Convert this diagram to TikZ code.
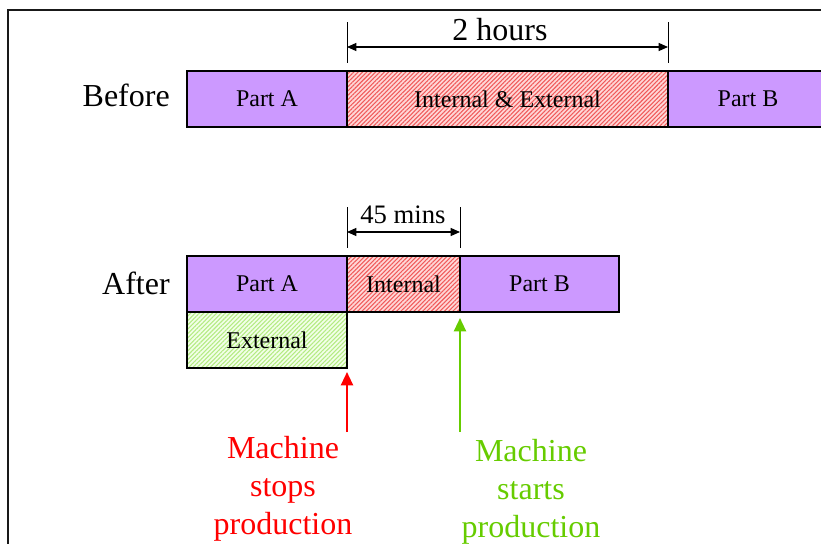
\documentclass[tikz,border=0pt]{standalone}
\usepackage{fontspec}
\setmainfont{Liberation Serif}
\usetikzlibrary{arrows.meta}
\usetikzlibrary{positioning, patterns.meta}

\definecolor{partlilac}{RGB}{204,153,255}
\definecolor{hatchpink}{RGB}{255,215,215}
\definecolor{hatchred}{RGB}{240,90,90}
\definecolor{hatchpale}{RGB}{242,255,232}
\definecolor{hatchlime}{RGB}{180,235,130}
\definecolor{startgreen}{RGB}{102,204,0}

\tikzset{
    bar/.style={draw=black, line width=0.9pt, minimum height=42pt, inner sep=0pt,
        outer sep=0pt, anchor=north west, font=\fontsize{18}{20}\selectfont},
    partbox/.style={bar, fill=partlilac},
    redhatch/.style={bar, preaction={fill=hatchpink},
        pattern={Lines[angle=45, distance=2.3pt, line width=0.8pt]}, pattern color=hatchred},
    greenhatch/.style={bar, preaction={fill=hatchpale},
        pattern={Lines[angle=45, distance=2.3pt, line width=0.8pt]}, pattern color=hatchlime},
    rowlabel/.style={anchor=east, inner sep=0pt, font=\fontsize{24}{28}\selectfont},
    dimline/.style={{Triangle[length=7pt,width=6pt]}-{Triangle[length=7pt,width=6pt]}, line width=0.9pt},
    tick/.style={line width=0.7pt},
    note/.style={align=center, inner sep=0pt, font=\fontsize{24}{28.5}\selectfont}
}

\begin{document}
\begin{tikzpicture}[x=0.75pt, y=-0.75pt]
    \useasboundingbox (0,0) rectangle (821,543);

    % outer frame
    \draw[line width=1.6pt, black!90] (8,560) -- (8,10) -- (840,10);

    % before: one long change-over
    \node[rowlabel] (before) at (170,95) {Before};
    \node[partbox, minimum width=120pt] (bA) at (187,71) {Part A};
    \node[redhatch, minimum width=240.75pt, right=0pt of bA] (bIE) {Internal \& External};
    \node[partbox, minimum width=120pt, right=0pt of bIE] (bB) {Part B};

    % after: external work moved out
    \node[rowlabel] (after) at (170,283) {After};
    \node[partbox, minimum width=120pt] (aA) at (187,256) {Part A};
    \node[redhatch, minimum width=84.75pt, right=0pt of aA] (aI) {Internal};
    \node[partbox, minimum width=119.25pt, right=0pt of aI] (aB) {Part B};
    \node[greenhatch, minimum width=120pt, below=0pt of aA] (aE) {External};

    % durations
    \coordinate (hL) at (347,47);
    \coordinate (hR) at (668,47);
    \draw[tick] (347,22) -- (347,63);
    \draw[tick] (668,22) -- (668,63);
    \draw[dimline] (hL) -- (hR);
    \node[font=\fontsize{24}{28}\selectfont] (hours) at (500,30) {2 hours};

    \coordinate (mL) at (347,232);
    \coordinate (mR) at (460,232);
    \draw[tick] (347,207) -- (347,248);
    \draw[tick] (460,207) -- (460,248);
    \draw[dimline] (mL) -- (mR);
    \node[font=\fontsize{20}{24}\selectfont] (mins) at (403,215) {45 mins};

    % machine stops / starts
    \coordinate (stopTail) at (347,432);
    \coordinate (startTail) at (460,432);
    \draw[red, line width=1.6pt, -{Triangle[length=10pt,width=9pt]}, shorten >=3pt]
        (stopTail) -- (aE.south east);
    \draw[startgreen, line width=1.6pt, -{Triangle[length=10pt,width=9pt]}, shorten >=4.5pt]
        (startTail) -- (aI.south east);
    \node[note, text=red] (stops) at (283,489) {Machine\\stops\\production};
    \node[note, text=startgreen] (starts) at (531,492) {Machine\\starts\\production};

\end{tikzpicture}
\end{document}
